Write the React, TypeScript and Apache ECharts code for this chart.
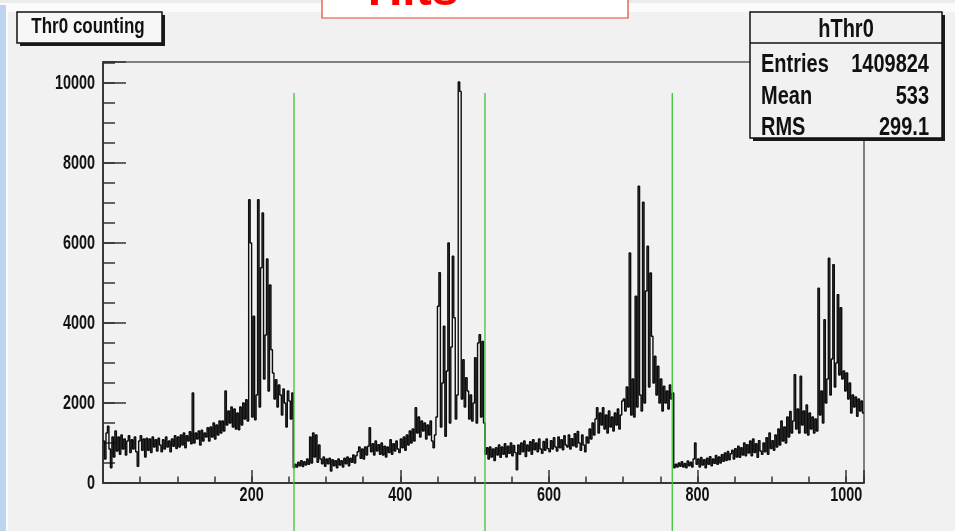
import React, { useEffect, useRef } from "react";
import * as echarts from "echarts";

// ---- data ----
const BIN_WIDTH = 2;
const X_MIN = 0;
const X_MAX = 1024;
const Y_MAX = 10525;

// counts for x = 0 .. 254
const segA = [
  1050, 600, 1250, 1420, 850, 380, 1150, 650, 1300, 800,
  1150, 720, 1200, 850, 1100, 700, 1050, 1180, 760, 1080,
  850, 1150, 780, 420, 1050, 1180, 820, 1100, 650, 1120,
  820, 1100, 760, 1150, 900, 1080, 800, 1120, 950, 780,
  1080, 850, 1150, 900, 1050, 780, 1100, 920, 1180, 860,
  1150, 900, 1200, 950, 1250, 880, 1180, 1050, 1280, 980,
  2250, 1000, 1250, 1100, 1300, 950, 1320, 1050, 1250, 1150,
  1380, 1050, 1400, 1150, 1500, 1100, 1450, 1200, 1550, 1250,
  1550, 1300, 2300, 1450, 1800, 1500, 1900, 1400, 1850, 1350,
  1750, 1330, 1900, 1450, 2000, 1600, 2080, 1550,
  7080, 6000, 1650, 4170, 1580, 2200, 7080, 1900, 5380, 6750,
  2600, 3700, 5600, 2300, 4950, 3330, 2750, 2100, 2580, 1900,
  2450, 2200, 1700, 2350, 2000, 1400, 2300, 2050, 1600, 2250,
];
// counts for x = 256 .. 510
const segB = [
  380, 470, 400, 520, 430, 560, 410, 530, 450, 600,
  470, 1150, 500, 1250, 650, 1200, 520, 950, 600, 480,
  650, 420, 600, 480, 620, 300, 580, 430, 560, 380,
  600, 450, 560, 400, 620, 480, 650, 430, 620, 520,
  700, 500, 680, 780, 900, 620, 850, 600, 900, 700,
  920, 1380, 780, 980, 700, 1050, 800, 960, 720, 1000,
  700, 920, 650, 900, 760, 1080, 720, 980, 800, 1050,
  850, 760, 1100, 880, 1150, 820, 1200, 950, 1300, 1000,
  1350, 1050, 1880, 1250, 1650, 1150, 1550, 1300, 1500, 1100,
  1450, 1200, 1550, 1050, 880, 1200, 1650,
  4420, 5260, 1400, 2500, 3920, 1170, 2800, 6000, 1500, 3400,
  5670, 4130, 1600, 2200, 10025, 9790, 2100, 3080, 1900, 2630,
  2300, 1600, 2200, 1550, 2000, 3130, 1500, 3500, 3710, 1650, 3540,
];
// counts for x = 512 .. 766
const segC = [
  1500, 720, 880, 600, 900, 650, 850, 560, 880, 700,
  950, 640, 900, 720, 980, 650, 920, 740, 1000, 680,
  940, 760, 330, 950, 720, 1000, 780, 1050, 660, 950,
  800, 1030, 720, 1080, 830, 1000, 780, 1100, 850, 740,
  1040, 820, 1100, 860, 780, 1060, 850, 1130, 900, 800,
  1150, 880, 1080, 830, 1180, 950, 900, 1200, 850, 1110,
  930, 1230, 900, 1290, 1000, 820, 1200, 950, 780, 1150,
  1000, 1350, 1100, 1500, 1200, 1600, 1880, 1250, 1750, 1450,
  1880, 1350, 1700, 1250, 1800, 1400, 1650, 1300, 1750, 1450,
  1850, 1350, 1700, 2050,
  2100, 1800, 2400, 1900, 5750, 1700, 2600, 1650, 4670, 1900,
  7420, 2200, 1800, 7020, 2000, 4800, 5920, 2400, 5250, 3670,
  2500, 3170, 2200, 2920, 2000, 2600, 1800, 2420, 2000, 2300,
  1850, 2450, 2100, 2250,
];
// counts for x = 768 .. 1022
const segD = [
  380, 470, 400, 500, 420, 530, 400, 490, 380, 550,
  430, 520, 400, 600, 1000, 470, 600, 400, 640, 450,
  580, 380, 620, 470, 660, 430, 600, 490, 690, 470,
  650, 500, 710, 540, 750, 560, 790, 580, 730, 820,
  600, 860, 650, 920, 640, 880, 700, 1000, 680, 960,
  750, 1050, 680, 1100, 760, 980, 640, 1060, 800, 720,
  1000, 780, 1130, 720, 1250, 860, 1060, 820, 1200, 900,
  1350, 950, 1550, 1050, 1400, 1000, 1650, 1150, 1790, 1250,
  1550, 2710, 1350, 1850, 1250, 2670, 1450, 1800, 1250, 1950,
  1200, 1750, 1350, 1650, 1250, 1600, 1300,
  4870, 1700, 2300, 1500, 4080, 2000, 2600, 5620, 2200, 3100,
  5460, 2400, 3000, 4710, 2700, 4380, 2600, 2800, 2300, 2750,
  2100, 2500, 1750, 2200, 1900, 2150, 1670, 2100, 1800, 2050, 1750,
];

const xLabelValues = [200, 400, 600, 800, 1000];
const yLabelValues = [0, 2000, 4000, 6000, 8000, 10000];
const boundaries = [257, 514, 766];
const boundaryTop = 9750;

const titleText = "Thr0 counting";
const statsTitle = "hThr0";
const statsLabels = ["Entries", "Mean", "RMS"];
const statsValues = ["1409824", "533", "299.1"];
const bannerText = "Hits";

const W = 955;
const H = 531;
const FONT = "'Liberation Sans', Arial, Helvetica, sans-serif";
const STRETCH = 1.3; // the reference's lettering is taller than it is wide

function staticGraphics(): any[] {
  const els: any[] = [];
  // page background pieces
  els.push({ type: "rect", z: -20, shape: { x: 0, y: 0, width: W, height: H }, style: { fill: "#fbfbfb" } });
  els.push({ type: "rect", z: -19, shape: { x: 0, y: 0, width: W, height: 3 }, style: { fill: "#ececec" } });
  els.push({ type: "rect", z: -19, shape: { x: 0, y: 5, width: 6, height: H - 5 }, style: { fill: "#bdd4ef" } });
  els.push({ type: "rect", z: -18, shape: { x: 8, y: 12, width: W - 8, height: H - 12 }, style: { fill: "#f1f1f1" } });

  // red banner box at the top (its text is cut by the page edge, as in the reference)
  els.push({ type: "rect", z: 20, shape: { x: 322, y: -2, width: 306, height: 20 }, style: { fill: "#ffffff", stroke: "#e3472d", lineWidth: 1.2 } });
  els.push({ type: "text", z: 21, x: 413, y: -12, style: { text: bannerText, fill: "#ff0000", font: `bold 48px ${FONT}`, align: "center", verticalAlign: "middle" } });

  // title box
  els.push({ type: "rect", z: 20, shape: { x: 20, y: 15, width: 145, height: 31 }, style: { fill: "#1a1a1a" } });
  els.push({ type: "rect", z: 21, shape: { x: 17, y: 12, width: 145, height: 31 }, style: { fill: "#f7f7f7", stroke: "#111", lineWidth: 1.5 } });
  els.push({ type: "text", z: 22, x: 88, y: 26, scaleY: 1.25, style: { text: titleText, fill: "#111", font: `bold 17px ${FONT}`, align: "center", verticalAlign: "middle" } });

  // stats box
  els.push({ type: "rect", z: 20, shape: { x: 753, y: 15, width: 192, height: 126 }, style: { fill: "#1a1a1a" } });
  els.push({ type: "rect", z: 21, shape: { x: 750, y: 12, width: 192, height: 126 }, style: { fill: "#f1f1f1", stroke: "#111", lineWidth: 1.5 } });
  els.push({ type: "line", z: 22, shape: { x1: 750, y1: 43, x2: 942, y2: 43 }, style: { stroke: "#111", lineWidth: 1.5 } });
  els.push({ type: "text", z: 22, x: 846, y: 28, scaleY: STRETCH, style: { text: statsTitle, fill: "#111", font: `bold 20px ${FONT}`, align: "center", verticalAlign: "middle" } });
  const rowY = [63, 95, 126];
  statsLabels.forEach((lab, i) => {
    els.push({ type: "text", z: 22, x: 761, y: rowY[i], scaleY: STRETCH, style: { text: lab, fill: "#111", font: `bold 20px ${FONT}`, align: "left", verticalAlign: "middle" } });
    els.push({ type: "text", z: 22, x: 929, y: rowY[i], scaleY: STRETCH, style: { text: statsValues[i], fill: "#111", font: `bold 20px ${FONT}`, align: "right", verticalAlign: "middle" } });
  });
  return els;
}

export default function App() {
  const ref = useRef<HTMLDivElement | null>(null);

  useEffect(() => {
    if (!ref.current) return;
    const chart = echarts.init(ref.current, undefined, { renderer: "svg", width: W, height: H });

    const counts = [...segA, ...segB, ...segC, ...segD];
    const histData: number[][] = counts.map((v, i) => [X_MIN + i * BIN_WIDTH, v]);
    histData.push([X_MAX, counts[counts.length - 1]]);

    const tickStyle = { color: "#333", width: 1.5 };

    const option: any = {
      animation: false,
      grid: {
        left: 103, right: W - 864, top: 62, bottom: H - 483,
        show: true, borderColor: "#5a5a5a", borderWidth: 1.5, backgroundColor: "transparent",
        outerBoundsMode: "none",
      },
      xAxis: [
        {
          type: "value", min: X_MIN, max: X_MAX, interval: 200,
          axisLine: { show: true, onZero: false, lineStyle: { color: "#222", width: 1.5 } },
          axisTick: { show: true, inside: true, length: 13, lineStyle: tickStyle },
          splitLine: { show: false },
          axisLabel: { show: false },
        },
        {
          type: "value", min: X_MIN, max: X_MAX, interval: 50, position: "bottom",
          axisLine: { show: false },
          axisTick: { show: true, inside: true, length: 6.5, lineStyle: tickStyle },
          splitLine: { show: false },
          axisLabel: { show: false },
        },
      ],
      yAxis: [
        {
          type: "value", min: 0, max: Y_MAX, interval: 2000,
          axisLine: { show: true, onZero: false, lineStyle: { color: "#222", width: 1.5 } },
          axisTick: { show: true, inside: true, length: 23, lineStyle: tickStyle },
          splitLine: { show: false },
          axisLabel: { show: false },
        },
        {
          type: "value", min: 0, max: Y_MAX, interval: 500, position: "left",
          axisLine: { show: false },
          axisTick: { show: true, inside: true, length: 12, lineStyle: tickStyle },
          splitLine: { show: false },
          axisLabel: { show: false },
        },
      ],
      series: [
        {
          type: "line", name: "hThr0", data: histData, step: "end", symbol: "none", silent: true,
          xAxisIndex: 0, yAxisIndex: 0,
          lineStyle: { color: "#0d0d0d", width: 1.4 },
        },
      ],
      graphic: staticGraphics(),
    };
    chart.setOption(option);

    // elements placed through the axes' own scales
    const yTop = chart.convertToPixel({ yAxisIndex: 0 }, boundaryTop) as number;
    const lines = boundaries.map((b) => {
      const px = chart.convertToPixel({ xAxisIndex: 0 }, b) as number;
      return { type: "line", z: 15, shape: { x1: px, y1: yTop, x2: px, y2: H }, style: { stroke: "#3cc43c", lineWidth: 1.3 } };
    });
    const labelFont = `bold 14.4px ${FONT}`;
    const yLabels = yLabelValues.map((v) => ({
      type: "text", z: 12, x: 95, y: chart.convertToPixel({ yAxisIndex: 0 }, v) as number, scaleY: 1.35,
      style: { text: String(v), fill: "#111", font: labelFont, align: "right", verticalAlign: "middle" },
    }));
    const xLabels = xLabelValues.map((v) => ({
      type: "text", z: 12, x: chart.convertToPixel({ xAxisIndex: 0 }, v) as number, y: 495, scaleY: 1.35,
      style: { text: String(v), fill: "#111", font: labelFont, align: "center", verticalAlign: "middle" },
    }));
    chart.setOption({ graphic: [...staticGraphics(), ...lines, ...yLabels, ...xLabels] });

    return () => chart.dispose();
  }, []);

  return <div ref={ref} style={{ position: "fixed", left: 0, top: 0, width: W, height: H }} />;
}
